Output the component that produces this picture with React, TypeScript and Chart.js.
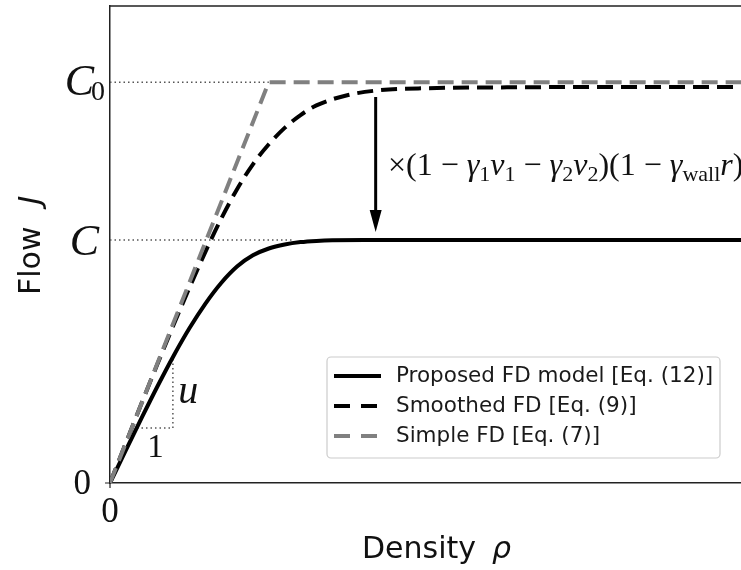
import React, { useEffect, useRef } from "react";
import { Chart, registerables } from "chart.js";

Chart.register(...registerables);

// ---- data ----
const C0 = 1.0;
const C = 0.606;
const X_MAX = 4.15;
const Y_MAX = 1.19;

const rhoSimple = [0, 1.0, 4.15];
const jSimple = [0, 1.0, 1.0];

const rhoSmoothed = [0, 0.1, 0.2, 0.3, 0.4, 0.5, 0.6, 0.7, 0.8, 0.9, 1.0, 1.1, 1.2, 1.3, 1.5, 1.7, 2.0, 2.5, 3.0, 4.15];
const jSmoothed = [0, 0.1, 0.2, 0.298, 0.394, 0.487, 0.576, 0.659, 0.733, 0.795, 0.845, 0.886, 0.918, 0.942, 0.968, 0.98, 0.985, 0.987, 0.988, 0.988];

const rhoProposed = [0, 0.1, 0.2, 0.3, 0.4, 0.5, 0.6, 0.7, 0.8, 0.9, 1.0, 1.1, 1.2, 1.3, 1.4, 1.6, 2.0, 3.0, 4.15];
const jProposed = [0, 0.082, 0.163, 0.242, 0.317, 0.386, 0.447, 0.499, 0.54, 0.568, 0.585, 0.595, 0.601, 0.604, 0.6055, 0.606, 0.606, 0.606, 0.606];

// guide lines
const rhoC0Guide = [0, 1.0];
const rhoCGuide = [0, 1.16];
const rhoTriangle = [0.17, 0.396, 0.396];
const jTriangle = [0.137, 0.137, 0.319];

// arrow (data coords)
const arrowRho = 1.673;
const arrowFrom = 0.963;
const arrowTo = 0.626;

const legendLabels = ["Proposed FD model [Eq. (12)]", "Smoothed FD [Eq. (9)]", "Simple FD [Eq. (7)]"];

const zip = (xs: number[], ys: number[]) => xs.map((x, i) => ({ x, y: ys[i] }));

const W = 790;
const H = 570;

const SERIF = '"Liberation Serif", "DejaVu Serif", serif';
const SANS = '"DejaVu Sans", sans-serif';

type Run = { t: string; font: string; dy?: number; dx?: number };
function drawRuns(ctx: CanvasRenderingContext2D, x: number, y: number, runs: Run[]) {
  let cx = x;
  for (const r of runs) {
    ctx.font = r.font;
    ctx.fillText(r.t, cx, y + (r.dy || 0));
    cx += ctx.measureText(r.t).width + (r.dx || 0);
  }
  return cx;
}

const decorPlugin = {
  id: "decor",
  afterDatasetsDraw(chart: any) {
    const { ctx, scales } = chart;
    const x = scales.x;
    const y = scales.y;
    // arrow
    const ax = x.getPixelForValue(arrowRho);
    const y1 = y.getPixelForValue(arrowFrom);
    const y2 = y.getPixelForValue(arrowTo);
    ctx.save();
    ctx.strokeStyle = "#000";
    ctx.fillStyle = "#000";
    ctx.lineWidth = 3;
    ctx.beginPath();
    ctx.moveTo(ax, y1);
    ctx.lineTo(ax, y2 - 18);
    ctx.stroke();
    ctx.beginPath();
    ctx.moveTo(ax, y2);
    ctx.lineTo(ax - 6, y2 - 22);
    ctx.lineTo(ax + 6, y2 - 22);
    ctx.closePath();
    ctx.fill();
    ctx.restore();
  },
  afterDraw(chart: any) {
    const { ctx, chartArea: a, scales } = chart;
    const x = scales.x;
    const y = scales.y;
    ctx.save();
    // top + right spines
    ctx.strokeStyle = "#222";
    ctx.lineWidth = 1.5;
    ctx.beginPath();
    ctx.moveTo(a.left, a.top);
    ctx.lineTo(a.right, a.top);
    ctx.lineTo(a.right, a.bottom);
    ctx.stroke();

    const x0 = x.getPixelForValue(0);
    const y0 = y.getPixelForValue(0);
    // tick marks at 0
    ctx.lineWidth = 1.2;
    ctx.beginPath();
    ctx.moveTo(x0 - 5, y0);
    ctx.lineTo(x0, y0);
    ctx.moveTo(x0, y0);
    ctx.lineTo(x0, y0 + 5);
    ctx.stroke();

    // tick labels
    ctx.fillStyle = "#111";
    ctx.textBaseline = "alphabetic";
    ctx.font = `35px ${SERIF}`;
    ctx.textAlign = "right";
    ctx.fillText("0", x0 - 19, y0 + 11);
    ctx.textAlign = "center";
    ctx.fillText("0", x0, y0 + 39);

    // C0 label
    const yC0 = y.getPixelForValue(C0);
    ctx.textAlign = "right";
    ctx.font = `28px ${SERIF}`;
    ctx.fillText("0", x0 - 5, yC0 + 18);
    const wz = ctx.measureText("0").width;
    ctx.font = `italic 44px ${SERIF}`;
    ctx.fillText("C", x0 - 5 - wz + 3, yC0 + 13);
    // C label
    const yC = y.getPixelForValue(C);
    ctx.fillText("C", x0 - 11, yC + 15);

    // u and 1 labels of the slope triangle
    ctx.textAlign = "left";
    ctx.font = `italic 40px ${SERIF}`;
    ctx.fillText("u", x.getPixelForValue(0.43), y.getPixelForValue(0.2));
    ctx.font = `33px ${SERIF}`;
    ctx.fillText("1", x.getPixelForValue(0.235), y.getPixelForValue(0.065));

    // axis titles
    ctx.fillStyle = "#111";
    ctx.textAlign = "left";
    ctx.textBaseline = "alphabetic";
    const xt = drawRuns(ctx, 362, 558, [{ t: "Density", font: `30px ${SANS}`, dx: 16 }]);
    drawRuns(ctx, xt, 558, [{ t: "ρ", font: `italic 30px ${SANS}` }]);
    ctx.save();
    ctx.translate(40, 295);
    ctx.rotate(-Math.PI / 2);
    drawRuns(ctx, 0, 0, [
      { t: "Flow", font: `30px ${SANS}`, dx: 22 },
      { t: "J", font: `italic 30px ${SANS}` },
    ]);
    ctx.restore();

    // annotation text
    const big = `32px ${SERIF}`;
    const bigI = `italic 32px ${SERIF}`;
    const sub = `22px ${SERIF}`;
    drawRuns(ctx, 388, 175, [
      { t: "×(1 − ", font: big },
      { t: "γ", font: bigI },
      { t: "1", font: sub, dy: 6 },
      { t: "ν", font: bigI },
      { t: "1", font: sub, dy: 6 },
      { t: " − ", font: big },
      { t: "γ", font: bigI },
      { t: "2", font: sub, dy: 6 },
      { t: "ν", font: bigI },
      { t: "2", font: sub, dy: 6 },
      { t: ")(1 − ", font: big },
      { t: "γ", font: bigI },
      { t: "wall", font: sub, dy: 6 },
      { t: "r", font: bigI },
      { t: ")", font: big },
    ]);

    // legend
    const lx = 327, ly = 357, lw = 393, lh = 101;
    ctx.fillStyle = "rgba(255,255,255,0.85)";
    ctx.strokeStyle = "#cccccc";
    ctx.lineWidth = 1.2;
    ctx.beginPath();
    (ctx as any).roundRect(lx, ly, lw, lh, 4);
    ctx.fill();
    ctx.stroke();
    const rows = [376, 406, 436];
    const styles = [
      { c: "#000", d: [] as number[] },
      { c: "#000", d: [16, 11] },
      { c: "#808080", d: [16, 11] },
    ];
    rows.forEach((ry, i) => {
      ctx.strokeStyle = styles[i].c;
      ctx.lineWidth = 4;
      ctx.setLineDash(styles[i].d);
      ctx.beginPath();
      ctx.moveTo(334, ry);
      ctx.lineTo(381, ry);
      ctx.stroke();
      ctx.setLineDash([]);
      ctx.fillStyle = "#1a1a1a";
      ctx.font = `21.5px ${SANS}`;
      ctx.textBaseline = "middle";
      ctx.textAlign = "left";
      ctx.fillText(legendLabels[i], 396, ry);
    });
    ctx.restore();
  },
};

export default function App() {
  const ref = useRef<HTMLCanvasElement | null>(null);
  useEffect(() => {
    if (!ref.current) return;
    const guide = {
      borderColor: "#555",
      borderWidth: 1.5,
      borderDash: [1.5, 3],
      pointRadius: 0,
      fill: false,
    };
    const chart = new Chart(ref.current, {
      type: "line",
      data: {
        datasets: [
          {
            label: legendLabels[2],
            data: zip(rhoSimple, jSimple),
            borderColor: "#808080",
            borderWidth: 4,
            borderDash: [16, 8],
            pointRadius: 0,
            tension: 0,
          },
          {
            label: legendLabels[1],
            data: zip(rhoSmoothed, jSmoothed),
            borderColor: "#000",
            borderWidth: 4,
            borderDash: [16, 8],
            pointRadius: 0,
            cubicInterpolationMode: "monotone",
          },
          {
            label: legendLabels[0],
            data: zip(rhoProposed, jProposed),
            borderColor: "#000",
            borderWidth: 4,
            pointRadius: 0,
            cubicInterpolationMode: "monotone",
          },
          { label: "C0 guide", data: zip(rhoC0Guide, [C0, C0]), ...guide },
          { label: "C guide", data: zip(rhoCGuide, [C, C]), ...guide },
          { label: "slope", data: zip(rhoTriangle, jTriangle), ...guide },
        ] as any,
      },
      options: {
        responsive: false,
        maintainAspectRatio: false,
        animation: false,
        events: [],
        layout: { padding: { top: 6, right: 21, left: 0, bottom: 0 } },
        plugins: { legend: { display: false }, tooltip: { enabled: false } },
        scales: {
          x: {
            type: "linear",
            min: 0,
            max: X_MAX,
            grid: { display: false },
            border: { display: true, color: "#222", width: 1.5 },
            ticks: { display: false },
            afterFit: (s: any) => {
              s.height = 87;
            },
          },
          y: {
            type: "linear",
            min: 0,
            max: Y_MAX,
            grid: { display: false },
            border: { display: true, color: "#222", width: 1.5 },
            ticks: { display: false },
            afterFit: (s: any) => {
              s.width = 110;
            },
          },
        },
      } as any,
      plugins: [decorPlugin],
    });
    return () => chart.destroy();
  }, []);
  return (
    <div
      style={{
        position: "fixed",
        left: 0,
        top: 0,
        width: 741,
        height: 570,
        overflow: "hidden",
        background: "#fff",
      }}
    >
      <canvas ref={ref} width={W} height={H} style={{ display: "block", width: W, height: H }} />
    </div>
  );
}
